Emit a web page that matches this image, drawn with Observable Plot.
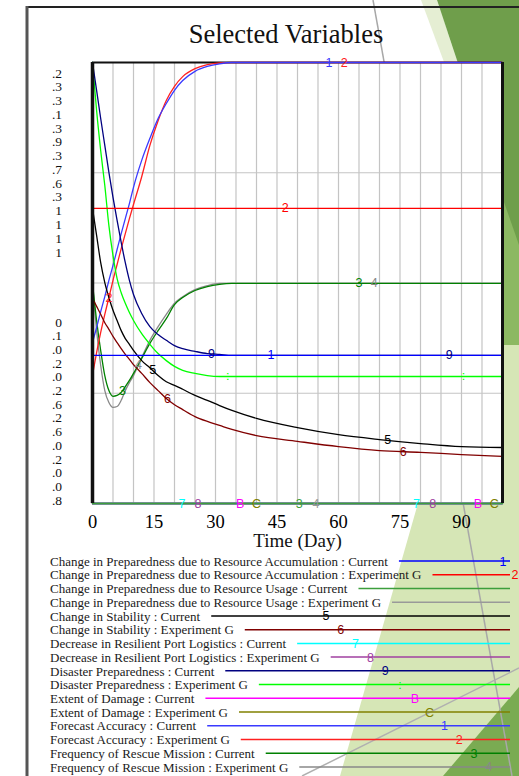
<!DOCTYPE html>
<html><head><meta charset="utf-8">
<script src="https://cdn.jsdelivr.net/npm/d3@7"></script>
<script src="https://cdn.jsdelivr.net/npm/@observablehq/plot@0.6"></script>
<style>
body{margin:0;background:#fff;}
#wrap{position:relative;width:519px;height:776px;overflow:hidden;font-family:"Liberation Serif","Times New Roman",serif;}
#wrap > svg, #wrap > div{position:absolute;left:0;top:0;}
</style></head>
<body>
<div id="wrap">
<svg id="bg" width="519" height="776">
  <polygon points="519,150 519,776 340,776" fill="#d6e6b6"/>
  <polygon points="421,0 437,0 505,205 497,205" fill="#e5eed3"/>
  <polygon points="500,190 519,230 519,345 500,345" fill="#8cb862"/>
  <polygon points="437,0 519,0 519,245 505,205" fill="#6f9e4b"/>
  <polygon points="443,776 519,687 519,776" fill="#7aab52"/>
  <line x1="373" y1="0" x2="512" y2="776" stroke="#a8a8a8" stroke-width="1.5"/>
  <line x1="302" y1="776" x2="519" y2="668" stroke="#b0b0b0" stroke-width="1.5"/>
  <line x1="27" y1="7" x2="519" y2="7" stroke="#222" stroke-width="2"/>
  <line x1="27" y1="6" x2="27" y2="776" stroke="#555" stroke-width="3"/>
</svg>
<div id="chart"></div>
<svg id="overlay" width="519" height="776"></svg>
</div>
<script>
// ---- data ----
const days = [0,1,2,3,4,5,6,7,8,9,10,12,14,16,18,20,22,25,28,31,34,40,50,60,70,80,90,100];
const constDays = [0,100];
// values in % of chart height (each variable on its own scale)
const resAccumCurrent = [33.6,33.6];
const resAccumExpG = [66.9,66.9];
const resUsageCurrent = [0,0];
const resUsageExpG = [0,0];
const stabilityCurrent = [66.9,60.8,54.6,50.1,46.7,43.8,41.5,39.2,37.4,36.1,34.7,32.4,30.8,29.0,27.6,26.8,25.9,24.5,23.4,22.2,21.1,19.3,17.2,15.6,14.5,13.6,12.9,12.7];
const stabilityExpG = [46.5,44.7,42.9,41.0,39.5,37.9,36.5,35.1,33.8,32.7,31.5,29.5,27.4,25.6,23.8,22.4,21.3,19.7,18.6,17.7,16.8,15.4,14.1,12.9,12.0,11.6,11.1,10.7];
const portLogisticsCurrent = [0,0];
const portLogisticsExpG = [0,0];
const preparednessCurrent = [100,93.7,87.3,81.2,75.1,69.4,64.2,59.2,54.6,50.6,47.4,43.1,40.1,38.3,37.0,35.8,35.1,34.5,34.0,33.8,33.6,33.6,33.6,33.6,33.6,33.6,33.6,33.6];
const preparednessExpG = [100,89.1,80.0,72.1,63.0,56.2,51.0,47.8,45.4,43.3,41.5,38.5,36.1,34.0,32.4,31.1,30.2,29.5,29.0,28.8,28.8,28.8,28.8,28.8,28.8,28.8,28.8,28.8];
const damageCurrent = [0,0];
const damageExpG = [0,0];
const forecastCurrent = [36.5,39.9,43.5,46.9,50.6,54.0,57.6,61.2,64.6,68.0,71.7,77.8,82.8,87.3,90.7,93.7,95.9,98.0,99.1,99.7,100,100,100,100,100,100,100,100];
const forecastExpG = [29.0,34.2,38.8,42.9,46.7,50.6,54.2,57.8,61.2,64.6,67.8,74.1,81.2,86.8,91.4,94.6,96.8,98.6,99.5,99.9,100,100,100,100,100,100,100,100];
const rescueCurrent = [49.9,41.5,34.7,29.0,25.6,24.3,24.5,25.2,26.5,27.9,29.5,32.9,36.3,39.2,41.9,45.1,46.7,48.3,49.2,49.7,49.9,49.9,49.9,49.9,49.9,49.9,49.9,49.9];
const rescueExpG = [49.9,39.2,31.3,25.6,22.9,21.8,22.0,23.4,25.6,27.4,29.0,33.1,37.0,40.1,42.9,45.4,46.9,48.5,49.4,49.9,49.9,49.9,49.9,49.9,49.9,49.9,49.9,49.9];

const seriesNames = [
  "Change in Preparedness due to Resource Accumulation : Current",
  "Change in Preparedness due to Resource Accumulation : Experiment G",
  "Change in Preparedness due to Resource Usage : Current",
  "Change in Preparedness due to Resource Usage : Experiment G",
  "Change in Stability : Current",
  "Change in Stability : Experiment G",
  "Decrease in Resilient Port Logistics : Current",
  "Decrease in Resilient Port Logistics : Experiment G",
  "Disaster Preparedness : Current",
  "Disaster Preparedness : Experiment G",
  "Extent of Damage : Current",
  "Extent of Damage : Experiment G",
  "Forecast Accuracy : Current",
  "Forecast Accuracy : Experiment G",
  "Frequency of Rescue Mission : Current",
  "Frequency of Rescue Mission : Experiment G"
];
const seriesValues = [resAccumCurrent,resAccumExpG,resUsageCurrent,resUsageExpG,stabilityCurrent,stabilityExpG,portLogisticsCurrent,portLogisticsExpG,preparednessCurrent,preparednessExpG,damageCurrent,damageExpG,forecastCurrent,forecastExpG,rescueCurrent,rescueExpG];
const seriesTags = ["1","2","3","4","5","6","7","8","9",":","B","C","1","2","3","4"];
const seriesColors = ["#0000ff","#ff0000","#3c9e3c","#999999","#000000","#800000","#00ffff","#a040a0","#000080","#00ff00","#ff00ff","#808000","#3a3aff","#ff2020","#008000","#888888"];
const labelDays = [[43.5],[47],[50.4],[54.5],[14.7,72],[18.3,75.8],[21.8,79],[25.7,83],[29,87],[33,90.5],[36,94],[40,98],[57.7],[4,61.4],[7.3,65],[11.2,68.7]];
const xTicks = [0,15,30,45,60,75,90];
const xGrid = [5,10,15,20,25,30,35,40,45,50,55,60,65,70,75,80,85,90,95];
const yGrid = [25,50,75];
const yLabelsUpper = [".2",".3",".3",".1",".3",".9",".3",".7",".6",".3","1","1","1","1"];
const yLabelsLower = ["0",".1",".0",".2",".0",".2",".6",".2",".6",".0",".2",".0",".0",".8"];
const chartTitle = "Selected Variables";
const xLabel = "Time (Day)";

// ---- build rows ----
const rows = [];
const labelRows = [];
for (let i = seriesValues.length - 1; i >= 0; i--) {
  const vals = seriesValues[i];
  const ds = vals.length === days.length ? days : constDays;
  vals.forEach((v, k) => rows.push({series: i, day: ds[k], value: v, color: seriesColors[i]}));
  const interp = d => {
    for (let k = 0; k < ds.length - 1; k++) {
      if (d >= ds[k] && d <= ds[k+1]) {
        const t = (d - ds[k]) / (ds[k+1] - ds[k]);
        return vals[k] + t * (vals[k+1] - vals[k]);
      }
    }
    return vals[vals.length-1];
  };
  labelDays[i].forEach(d => labelRows.push({day: d, value: interp(d), tag: seriesTags[i], color: seriesColors[i]}));
}

const chart = Plot.plot({
  width: 519, height: 560,
  marginLeft: 92, marginRight: 17, marginTop: 62, marginBottom: 57,
  x: {domain: [0, 100]},
  y: {domain: [0, 100], axis: null},
  color: {type: "identity"},
  style: {fontFamily: "Liberation Serif, serif", fontSize: "18.5px", color: "black", background: "transparent"},
  marks: [
    Plot.frame({fill: "white", stroke: null}),
    Plot.ruleX(xGrid, {stroke: "#c4c4c4", strokeWidth: 1.2, strokeOpacity: 1}),
    Plot.ruleY(yGrid, {stroke: "#c4c4c4", strokeWidth: 1.2, strokeOpacity: 1}),
    Plot.ruleY([100], {stroke: "#111", strokeWidth: 2}),
    Plot.ruleY([0], {stroke: "#777", strokeWidth: 2.5}),
    Plot.line(rows, {x: "day", y: "value", z: "series", stroke: "color", strokeWidth: 1.3, curve: "monotone-x"}),
    Plot.text(labelRows, {x: "day", y: "value", text: "tag", fill: "color", fontFamily: "Liberation Sans, Arial, sans-serif", fontSize: 12.5}),
    Plot.ruleX([0], {stroke: "#111", strokeWidth: 3.5}),
    Plot.ruleX([100], {stroke: "#111", strokeWidth: 3}),
    Plot.axisX(xTicks, {tickSize: 0, tickPadding: 11, fontSize: 18.5, label: null})
  ]
});
document.getElementById("chart").appendChild(chart);

// ---- overlay texts: title, axis label, stacked scale labels, legend ----
const ov = d3.select("#overlay");
ov.append("text").attr("x", 286).attr("y", 43).attr("text-anchor", "middle")
  .attr("font-size", 26.5).attr("fill", "#111").text(chartTitle);
ov.append("text").attr("x", 297.5).attr("y", 547).attr("text-anchor", "middle")
  .attr("font-size", 19).attr("fill", "#111").text(xLabel);
yLabelsUpper.forEach((t, i) => ov.append("text").attr("x", 62).attr("y", 73 + i * 13.77 + 4.5)
  .attr("text-anchor", "end").attr("font-size", 13.5).attr("fill", "#111").text(t));
yLabelsLower.forEach((t, i) => ov.append("text").attr("x", 62).attr("y", 322 + i * 13.7 + 4.5)
  .attr("text-anchor", "end").attr("font-size", 13.5).attr("fill", "#111").text(t));

seriesNames.forEach((name, i) => {
  const by = 565.7 + 13.73 * i;
  const t = ov.append("text").attr("x", 50).attr("y", by).attr("font-size", 13).attr("fill", "#1a1a1a").text(name);
  const w = t.node().getComputedTextLength();
  const x0 = 50 + w + 11;
  const ly = by - 4.7;
  ov.append("line").attr("x1", x0).attr("x2", 510).attr("y1", ly).attr("y2", ly)
    .attr("stroke", seriesColors[i]).attr("stroke-width", 1.5);
  let lx = 326 + 14.8 * (i - 4);
  if (lx < x0 + 5) lx = 503 + 12 * i;
  if (lx <= 515) {
    ov.append("text").attr("x", lx).attr("y", ly).attr("dy", "0.36em").attr("text-anchor", "middle")
      .attr("font-family", "Liberation Sans, Arial, sans-serif").attr("font-size", 12.5)
      .attr("fill", seriesColors[i]).text(seriesTags[i]);
  }
});
</script>
</body></html>
